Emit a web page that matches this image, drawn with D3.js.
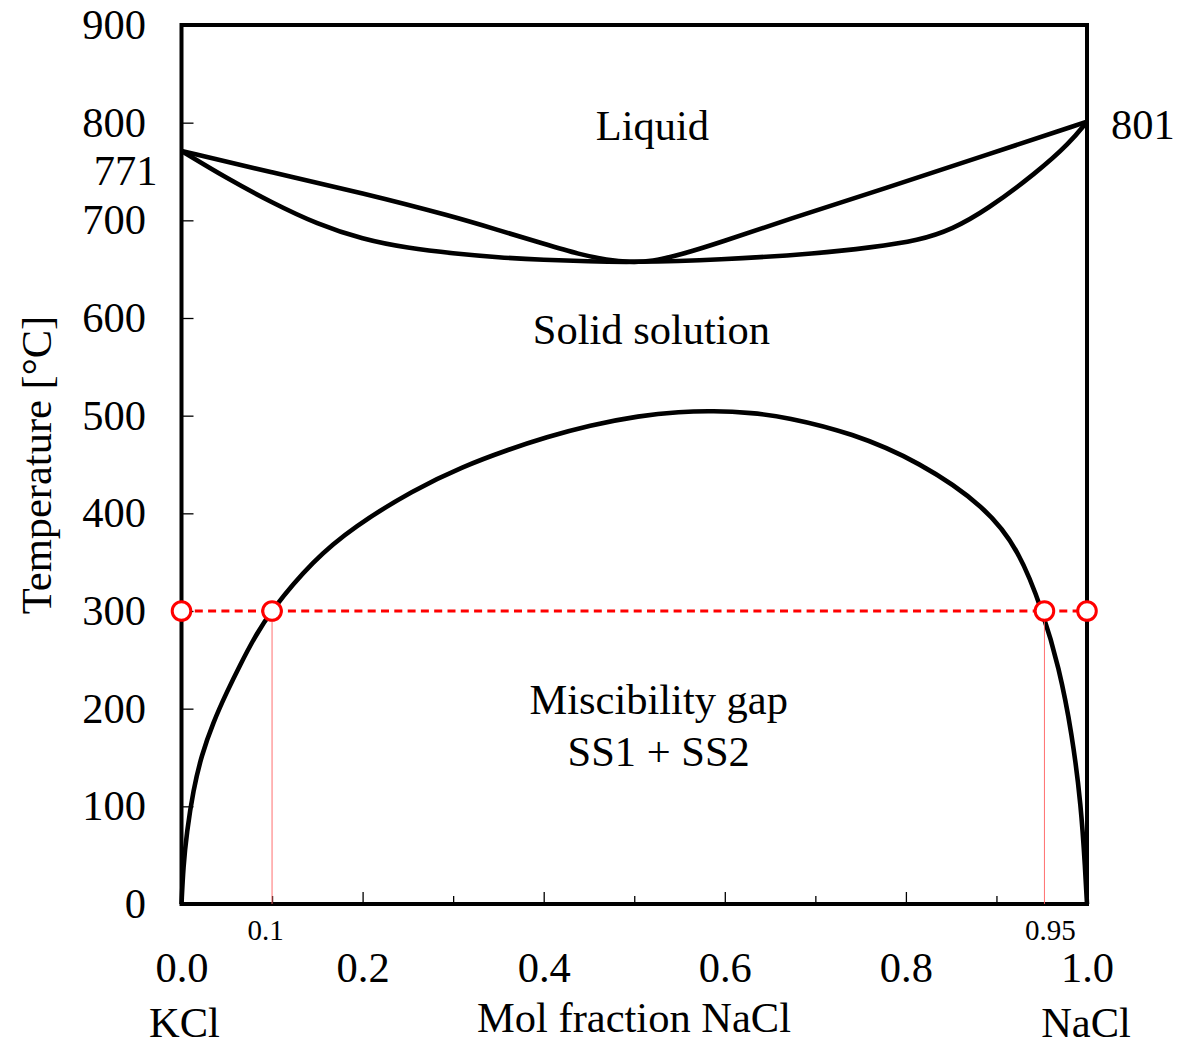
<!DOCTYPE html>
<html>
<head>
<meta charset="utf-8">
<script src="https://cdn.jsdelivr.net/npm/d3@7"></script>
<style>
  html, body { margin: 0; padding: 0; background: #fff; }
  svg { display: block; }
  text { font-family: "Liberation Serif", "Times New Roman", serif; fill: #000; }
</style>
</head>
<body>
<svg id="chart" width="1179" height="1046"></svg>
<script>
// ---- Data ----
const liquidusX = [0, 0.1, 0.2, 0.3, 0.35, 0.4, 0.44, 0.47, 0.495, 0.52, 0.55, 0.594, 0.668, 0.778, 0.889, 1.0];
const liquidusT = [771, 749, 728, 704, 690, 676, 665, 659.5, 657, 658, 664.5, 677, 700.5, 733, 767, 801];

const solidusX = [0, 0.05, 0.1, 0.15, 0.2, 0.25, 0.3, 0.35, 0.4, 0.45, 0.495, 0.594, 0.705, 0.76, 0.815, 0.8515, 0.889, 0.944, 0.981, 1.0];
const solidusT = [771, 743, 718, 696, 680.5, 671.5, 666, 662, 659.5, 658, 657, 659.4, 666.3, 672, 679.5, 691, 710.6, 748.5, 779.2, 801];

const gapX = [0, 0.002, 0.0057, 0.013, 0.022, 0.035, 0.05, 0.0646, 0.08, 0.0985, 0.1455, 0.19, 0.256, 0.311, 0.36, 0.403, 0.45, 0.506, 0.55, 0.5866, 0.63, 0.667, 0.7406, 0.8146, 0.8885, 0.925, 0.951, 0.969, 0.9834, 0.9936, 0.998, 1.0];
const gapT = [0, 38, 72.7, 116.7, 152, 186, 217, 244.5, 272, 300, 352, 386, 424, 448, 465, 478, 490, 500, 504, 505, 503, 498.7, 482.3, 453, 406.5, 362, 300, 242.7, 175, 100, 35, 0];

const tieT = 300;
const tieX = [0, 0.1, 0.953, 1.0];
const dropX = [0.1, 0.953];
const dropLabels = ["0.1", "0.95"];

const yTicks = [0, 100, 200, 300, 400, 500, 600, 700, 800, 900];
const xMajorTicks = [0, 0.2, 0.4, 0.6, 0.8, 1.0];
const xMinorTicks = [0.1, 0.3, 0.5, 0.7, 0.9];

const meltLabels = ["771", "801"];
const regionLabels = [
  {x: 0.52, t: 782, text: "Liquid"},
  {x: 0.519, t: 573.5, text: "Solid solution"},
  {x: 0.527, t: 195, text: "Miscibility gap"},
  {x: 0.527, t: 141, text: "SS1 + SS2"}
];
const endLabels = [{x: 0, text: "KCl"}, {x: 1, text: "NaCl"}];

// ---- Layout ----
const svg = d3.select("#chart");
const L = 181.5, R = 1087, T = 25, B = 904;
const x = d3.scaleLinear().domain([0, 1]).range([L, R]);
const y = d3.scaleLinear().domain([0, 900]).range([B, T]);
const FS = 42.5;

// Axes (ticks inward)
const yAxis = d3.axisLeft(y).tickValues(yTicks).tickSize(-12).tickPadding(35.5).tickFormat(d3.format("d"));
const gy = svg.append("g").attr("transform", `translate(${L},0)`).call(yAxis);
gy.select(".domain").remove();
gy.selectAll("line").attr("stroke", "#000").attr("stroke-width", 1.3);
gy.selectAll("text").attr("font-size", FS).attr("font-family", "Liberation Serif, serif");

const xAxis = d3.axisBottom(x).tickValues(xMajorTicks).tickSize(-12).tickPadding(48).tickFormat(d3.format(".1f"));
const gx = svg.append("g").attr("transform", `translate(0,${B})`).call(xAxis);
gx.select(".domain").remove();
gx.selectAll("line").attr("stroke", "#000").attr("stroke-width", 1.3);
gx.selectAll("text").attr("font-size", FS).attr("font-family", "Liberation Serif, serif");

const xAxisMinor = d3.axisBottom(x).tickValues(xMinorTicks).tickSize(-8).tickFormat("");
const gxm = svg.append("g").attr("transform", `translate(0,${B})`).call(xAxisMinor);
gxm.select(".domain").remove();
gxm.selectAll("line").attr("stroke", "#000").attr("stroke-width", 1.3);

// Curves
const line = d3.line().x(d => x(d[0])).y(d => y(d[1])).curve(d3.curveBasis);
const curves = [
  d3.zip(liquidusX, liquidusT),
  d3.zip(solidusX, solidusT),
  d3.zip(gapX, gapT)
];
svg.append("g").selectAll("path").data(curves).join("path")
  .attr("d", line)
  .attr("fill", "none")
  .attr("stroke", "#000")
  .attr("stroke-width", 4.6)
  .attr("stroke-linejoin", "round");

// Frame
svg.append("rect")
  .attr("x", x(0)).attr("y", y(900))
  .attr("width", x(1) - x(0)).attr("height", y(0) - y(900))
  .attr("fill", "none").attr("stroke", "#000").attr("stroke-width", 4);

// Drop lines
svg.append("g").selectAll("line").data(dropX).join("line")
  .attr("x1", d => x(d)).attr("x2", d => x(d))
  .attr("y1", y(tieT)).attr("y2", y(0))
  .attr("stroke", "#ff6060").attr("stroke-width", 0.9);

// Tie line
svg.append("line")
  .attr("x1", x(0)).attr("x2", x(1))
  .attr("y1", y(tieT)).attr("y2", y(tieT))
  .attr("stroke", "#ff0000").attr("stroke-width", 3)
  .attr("stroke-dasharray", "8,5.3");

// Circles
svg.append("g").selectAll("circle").data(tieX).join("circle")
  .attr("cx", d => x(d)).attr("cy", y(tieT)).attr("r", 9.3)
  .attr("fill", "#fff").attr("stroke", "#ff0000").attr("stroke-width", 3);

// Small labels for drop lines
svg.append("g").selectAll("text").data(d3.zip(dropX, dropLabels)).join("text")
  .attr("x", (d, i) => x(d[0]) + (i === 0 ? -6.5 : 6))
  .attr("y", 940)
  .attr("text-anchor", "middle")
  .attr("font-size", 29)
  .text(d => d[1]);

// Melting point labels
svg.append("text").attr("x", x(0) - 24).attr("y", y(771) + 34)
  .attr("text-anchor", "end").attr("font-size", FS).text(meltLabels[0]);
svg.append("text").attr("x", x(1) + 24).attr("y", y(801) + 17)
  .attr("text-anchor", "start").attr("font-size", FS).text(meltLabels[1]);

// Region labels
svg.append("g").selectAll("text").data(regionLabels).join("text")
  .attr("x", d => x(d.x)).attr("y", d => y(d.t))
  .attr("text-anchor", "middle").attr("font-size", FS)
  .text(d => d.text);

// End component labels
svg.append("g").selectAll("text").data(endLabels).join("text")
  .attr("x", d => x(d.x) + (d.x === 0 ? 3 : -1)).attr("y", 1037)
  .attr("text-anchor", "middle").attr("font-size", FS)
  .text(d => d.text);

// Axis titles
svg.append("text").attr("x", 634).attr("y", 1032)
  .attr("text-anchor", "middle").attr("font-size", FS).text("Mol fraction NaCl");
svg.append("text")
  .attr("transform", `translate(51,465) rotate(-90)`)
  .attr("text-anchor", "middle").attr("font-size", FS).text("Temperature [°C]");
</script>
</body>
</html>
